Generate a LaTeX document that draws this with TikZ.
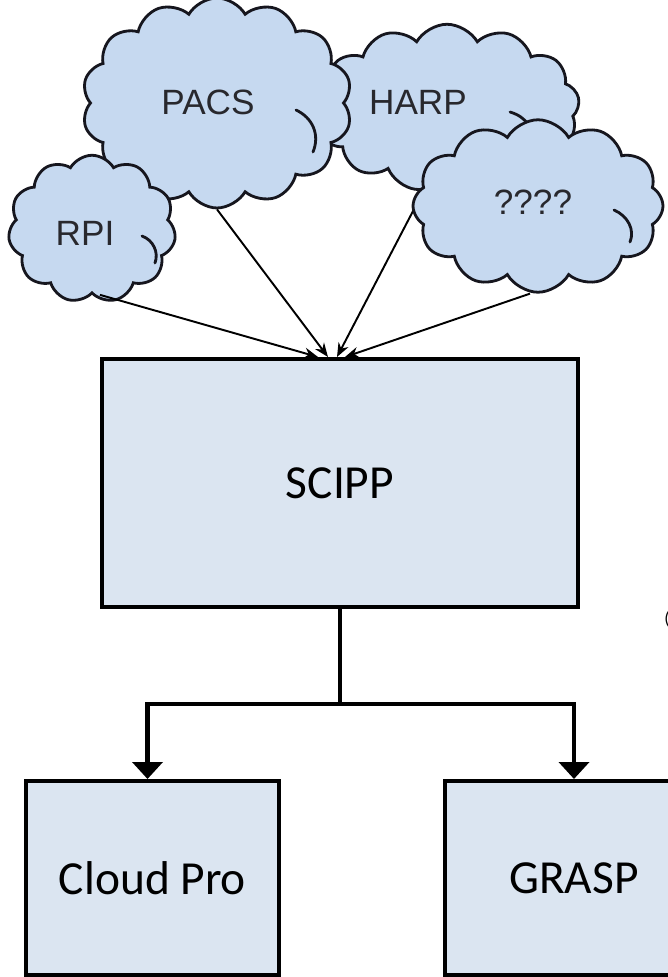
\documentclass[tikz,border=0pt]{standalone}
\usepackage{fontspec}
\newfontfamily\boxfont{Carlito}
\newfontfamily\cloudfont{Liberation Sans}
\usetikzlibrary{shapes.symbols,arrows.meta,calc}
\definecolor{cloudfill}{RGB}{198,217,240}
\definecolor{boxfill}{RGB}{219,229,241}
\definecolor{cloudline}{RGB}{22,22,30}
\definecolor{cloudtext}{RGB}{40,40,45}
\begin{document}
\begin{tikzpicture}[x=0.02cm,y=-0.02cm,
  cloudshape/.style={cloud, cloud ignores aspect, cloud puffs=#1, cloud puff arc=120,
    draw=cloudline, line width=1.6pt, fill=cloudfill, inner sep=0pt},
  curl/.style={draw=cloudline, line width=1.6pt, line cap=round},
  cloudlabel/.style={font=\cloudfont\fontsize{20}{23}\selectfont, text=cloudtext, inner sep=0pt},
  blockbox/.style={draw=black, line width=2.3pt, fill=boxfill, inner sep=0pt,
    font=\boxfont\fontsize{27}{32}\selectfont},
  feed/.style={line width=1.1pt, -{Stealth[length=0.28cm,width=0.22cm]}},
  trunk/.style={line width=2.3pt, line join=miter},
  downarrow/.style={trunk, -{Triangle[length=0.34cm,width=0.6cm]}}]
\clip (0,0) rectangle (668,977);
\fill[white] (0,0) rectangle (668,977);

% clouds
\node[cloudshape=13, minimum width=5.3cm, minimum height=3.35cm] (harp) at (447,108) {};
\draw[curl] (510,112) .. controls (527,117) and (535,130) .. (530,144);
\node[cloudshape=14, minimum width=5.4cm, minimum height=4.2cm] (pacs) at (217,103) {};
\draw[curl] (296,110) .. controls (313,118) and (320,135) .. (313,152);

% SCIPP box
\node[blockbox, minimum width=9.52cm, minimum height=4.96cm] (scipp) at (340,483) {SCIPP};

\draw[feed] ($(harp.south)+(-17,0)$) -- ($(scipp.north)+(-3,0)$);

\node[cloudshape=12, minimum width=5.0cm, minimum height=3.45cm] (quest) at (538,206) {};
\draw[curl] (614,210) .. controls (628,216) and (635,230) .. (630,242);
\node[cloudshape=11, minimum width=3.35cm, minimum height=2.95cm] (rpi) at (92,229) {};
\draw[curl] (142,236) .. controls (153,240) and (159,252) .. (155,263);

\node[cloudlabel] (pacslabel) at (208,102) {PACS};
\node[cloudlabel] (harplabel) at (418,102) {HARP};
\node[cloudlabel] (questlabel) at (533,202) {????};
\node[cloudlabel] (rpilabel) at (85,233) {RPI};

\draw[feed] ($(rpi.south)+(8,0)$) -- ($(scipp.north)+(-22,0)$);
\draw[feed] (pacs.south) -- ($(scipp.north)+(-12,0)$);
\draw[feed] ($(quest.south)+(-8,0)$) -- ($(scipp.north)+(5,0)$);

% lower boxes
\node[blockbox, minimum width=5.06cm, minimum height=3.88cm] (cloudpro) at (152.5,878) {Cloud Pro};
\node[blockbox, minimum width=5.16cm, minimum height=3.88cm] (grasp) at (574,878) {GRASP};

\coordinate (split) at (340,704);
\draw[trunk] (scipp.south) -- (split);
\draw[downarrow] (split) -| ($(cloudpro.north)+(-5,0)$);
\draw[downarrow] (split) -| (grasp.north);

\node[font=\boxfont\fontsize{10}{12}\selectfont, anchor=west, inner sep=0pt] (paren) at (664,619) {(};
\end{tikzpicture}
\end{document}
